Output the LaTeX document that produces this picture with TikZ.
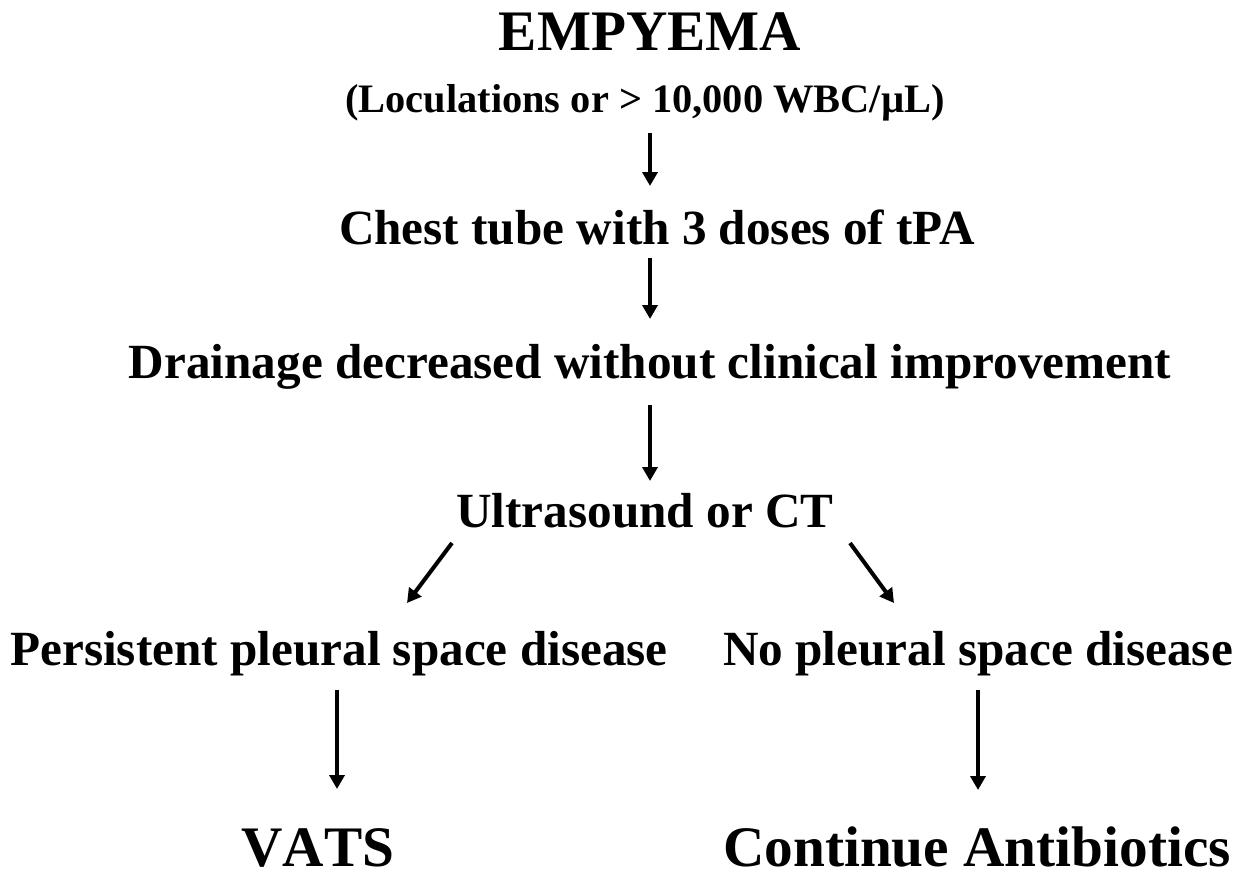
\documentclass[tikz,border=0pt]{standalone}
\usepackage{fontspec}
\setmainfont{Liberation Serif}
\usetikzlibrary{arrows.meta}
\tikzset{
  txt/.style={anchor=base,inner sep=0pt,font=\bfseries\fontsize{28}{30}\selectfont},
  big/.style={txt,font=\bfseries\fontsize{32.6}{34}\selectfont},
  small/.style={txt,font=\bfseries\fontsize{23}{25}\selectfont},
  arr/.style={line width=2.3pt,-{Triangle[length=0.28cm,width=0.3cm]}}
}
\begin{document}
\begin{tikzpicture}[x=0.02cm,y=-0.02cm]
\useasboundingbox (0,0) rectangle (1250,888);
\node[big]   (emp)  at (650,51)  {EMPYEMA};
\node[small] (loc)  at (645,113) {(Loculations or > 10,000 WBC/µL)};
\node[txt]   (chest) at (657,245) {Chest tube with 3 doses of tPA};
\node[txt]   (drain) at (650,378) {Drainage decreased without clinical improvement};
\node[txt]   (us)   at (645,527) {Ultrasound or CT};
\node[txt]   (pers) at (339,665) {Persistent pleural space disease};
\node[txt]   (nop)  at (978,665) {No pleural space disease};
\node[big]   (vats) at (318,866) {\addfontfeature{Kerning=Off}VATS};
\node[big]   (cont) at (977,866) {Continue Antibiotics};
% arrow end points
\coordinate (a1s) at (650,133); \coordinate (a1e) at (650,186);
\coordinate (a2s) at (650,258); \coordinate (a2e) at (650,319);
\coordinate (a3s) at (650,405); \coordinate (a3e) at (650,481);
\coordinate (dls) at (452,543); \coordinate (dle) at (407,603);
\coordinate (drs) at (850,543); \coordinate (dre) at (894,603);
\coordinate (vls) at (337,690); \coordinate (vle) at (337,789);
\coordinate (vrs) at (978,690); \coordinate (vre) at (978,790);
\draw[arr] (a1s) -- (a1e);
\draw[arr] (a2s) -- (a2e);
\draw[arr] (a3s) -- (a3e);
\draw[arr] (dls) -- (dle);
\draw[arr] (drs) -- (dre);
\draw[arr] (vls) -- (vle);
\draw[arr] (vrs) -- (vre);
\end{tikzpicture}
\end{document}
